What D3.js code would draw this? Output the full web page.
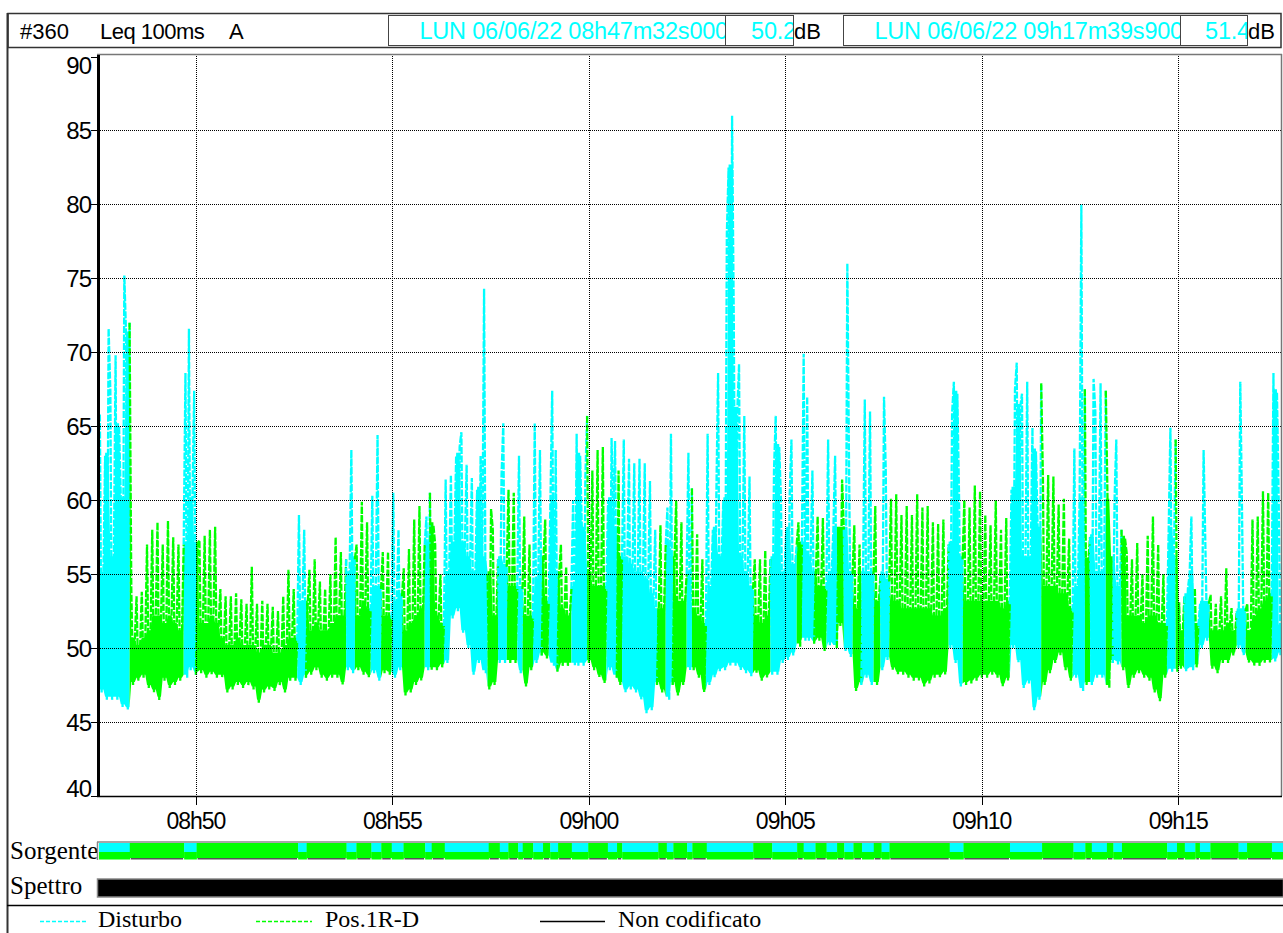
<!DOCTYPE html>
<html>
<head>
<meta charset="utf-8">
<title>#360 Leq 100ms A</title>
<script src="https://cdn.jsdelivr.net/npm/d3@7"></script>
<style>
  body { margin: 0; background: #fff; }
  svg { display: block; }
</style>
</head>
<body>
<div id="chart"></div>
<script>
// ---- data ----
var startTime = new Date(2022, 5, 6, 8, 47, 32, 0);
var endTime = new Date(2022, 5, 6, 9, 17, 39, 900);
var binSeconds = 8; // each triplet = three consecutive readings inside 8 s

var headerTitle = ["#360", "Leq 100ms", "A"];
var cursorTimes = ["LUN 06/06/22 08h47m32s000", "LUN 06/06/22 09h17m39s900"];
var cursorValues = [50.2, 51.4];

var yTicks = [40, 45, 50, 55, 60, 65, 70, 75, 80, 85, 90];

// dB readings, 08h47m32 -> 08h52m36
var levelsBlock1 = [
  [65.8,47,55],[63,46.5,71.6],[67.4,46.5,56],[69.8,46.5,65],[60,46,75.2],[71.2,45.8,72],
  [54,47.5,50.5],[53.5,47.8,50],[53.8,48,50.5],[57,47.3,51],[58,47,52],[58.5,46.5,52],
  [57,47.8,51.5],[58.6,47.3,52],[57.5,47.5,51.5],[57,47.8,51],[57,68.6,48],[71.6,48.5,60],
  [67.4,48.2,57],[57.3,48.3,51.5],[57.6,48,51.5],[58,48.2,52],[58.2,48,51.5],[54,48,50.5],
  [53.5,47,50],[53.5,47.2,50],[53.7,47.5,50.5],[53.3,47.3,50],[53,47.5,50],[55.5,47.2,50],
  [53,46.3,49.5],[53.2,47,50],[53,47.2,50],[52.8,47.1,49.5],[52.5,47.5,49.5],[53.5,47,50],
  [55.3,47.8,50.5],[54,47.8,50.5]
];
// 08h52m36 -> 08h57m40
var levelsBlock2 = [
  [59,47.5,53],[58,48,53],[55.3,48.2,51],[56,48.5,51.5],[54.5,48,51],[54,47.8,51],
  [55,48,51.5],[57.5,48,52],[56.5,47.5,52],[56,48.5,55],[63.4,48.3,56],[57,48.5,52],
  [59.9,48.2,53],[58.5,48,52.5],[60.3,48.3,54],[64.4,47.8,54],[56.5,48.3,52],[56.5,48.2,52],
  [60.5,48,53],[58,48.5,53.5],[55.4,46.8,51],[56.7,47,51.5],[58.7,47.5,52],[59.6,47.8,52.5],
  [57,58.9,48.5],[60.5,48.5,58.3],[57,48.5,52],[55,48.7,51.5],[61.4,49,55],[61.7,52,57],
  [63,52.5,63.6],[64.6,51,57],[62.4,50,56],[61.5,48.2,55],[60.7,49,63],[56,74.3,48.3],
  [55,47.2,59.4],[58,47.5,52]
];
// 08h57m40 -> 09h02m44
var levelsBlock3 = [
  [56,49,61.7],[65.2,49,55.5],[60.7,49,54],[60.5,49,54],[63,48.3,54],[58.9,47.4,52],
  [57,48.5,52],[65.2,49,54.5],[63.4,49.5,56],[58.7,49.3,53],[60,67.4,48.8],[63.4,48.4,55],
  [57,48.8,52.5],[55.5,48.8,52],[54,60,48.8],[64.5,48.8,63],[58,48.8,61.6],[65.7,49,55],
  [62,48.5,54],[63.4,48,54],[63.6,47.6,54],[60,48.5,64.2],[58,64,48],[62,47.5,56],
  [64.1,47,56],[62.8,47.2,55.5],[62.5,47,55],[62.8,46.5,55],[62.5,45.6,54.5],[61.3,45.8,53.5],
  [58,47.5,52.5],[58.3,47,52.5],[57,59.5,46.5],[64.5,47.5,56],[60,46.8,53],[58.5,47.5,53],
  [55,63.2,48.5],[60.8,48.5,52.5]
];
// 09h02m44 -> 09h07m48
var levelsBlock4 = [
  [57.7,48,52],[56,47,51.5],[64.5,47.5,54],[58,48,60.4],[68.6,48.4,56],[60,48.5,78],
  [82.5,48.8,86],[72,48.8,66.1],[69.2,48.5,56],[65.7,48.3,55],[61.6,48.1,54],[56,48.3,52],
  [56,47.8,51.5],[56.6,48,52],[56,48.2,62],[65.7,48.2,63.6],[60,49,55],[58,49.2,60.4],
  [64.1,49.5,55.5],[57,58.5,50.1],[57,69.9,50.5],[67,50.5,56],[62,50.3,55],[58.9,50.5,54],
  [58.8,49.8,54],[64.1,50.2,55],[58,63,50],[58,51.5,61.4],[58,49.8,76],[62,49.4,55],
  [58.3,47.1,52.5],[57,47.5,55],[66.8,48,55],[66,47.5,55],[59.6,47.5,53],[55,48.5,67],
  [62,49.2,54.5],[60.1,48.5,53]
];
// 09h07m48 -> 09h12m52
var levelsBlock5 = [
  [60.4,48.2,53],[59,48.2,52.5],[59.6,48,52.5],[59,47.8,52.5],[60.4,47.8,52.5],[59.5,47.4,52.5],
  [59.6,47.6,52.5],[58.5,48,52],[58.4,48,52],[58.7,48.2,52.5],[57,50,65.9],[68,49,67.2],
  [60,47.4,56],[60,47.5,53],[59.5,47.6,53],[61,47.8,53],[60.6,48,53],[59,48,53],
  [58.3,48.2,53],[60,48,53],[58,47.4,52.5],[58.8,47.8,53],[60.7,50,67.5],[69.3,49,66.3],
  [67.2,47.3,56],[68,47.6,56],[64.9,45.8,63.3],[58,46.5,67.9],[61.4,47.5,54],[61.7,48.3,54],
  [61.6,49,54],[59.7,49.5,53.5],[60.1,48.5,53.5],[57.4,47.8,52.5],[63.5,48,54],[60,80,47.1],
  [67.5,47.5,55.9],[57.5,47.5,68.2]
];
// 09h12m52 -> 09h17m40
var levelsBlock6 = [
  [66,48,55],[67.9,48,55],[67.4,59.9,47.3],[56,49,60],[64.1,48.9,54],[58,48.5,57.4],
  [56.4,47.3,52],[56,48,52],[57.1,48.3,52],[55,48,51.5],[57.6,47.8,52],[58.9,47,52],
  [57,46.4,51.5],[55,48,51.5],[58,64.9,48.4],[56,64.1,48.4],[53.1,48.6,51],[53.5,48.4,54],
  [55,58.9,48.5],[54,48.7,51.5],[53,50,63.4],[57,50.5,53],[53.6,48.6,51],[53,48.3,51],
  [53.5,49,51],[55.4,49,51.5],[52.7,49.5,51],[52.5,50,68],[59.2,49.5,52.5],[53,49,51],
  [58.7,48.8,52],[58.9,48.8,52.5],[60.6,49,53],[60.5,49,53.5],[68.6,49.1,67.3],[60,49.5,51.4]
];

// source coding: segment start (s after 08h47m32) and code
var sourceStart = [0,47,130,149,304,317,378,393,416,431,447,465,498,508,528,595,612,625,640,647,
  663,678,689,701,722,747,777,791,799,854,867,877,898,906,928,999,1028,1066,1076,1094,
  1111,1127,1138,1152,1165,1183,1195,1207,1299,1320,1391,1440,1488,1506,1516,1539,1549,1562,
  1631,1646,1658,1674,1681,1697,1740,1753,1791];
var sourceCode = sourceStart.map(function (s, i) { return i % 2 === 0 ? "D" : "P"; });

var legendLabels = ["Disturbo", "Pos.1R-D", "Non codificato"];
var legendCodes = ["D", "P", "N"];

// ---- drawing ----
var W = 1283, H = 933;
var sans = "'Liberation Sans', Arial, sans-serif";
var serif = "'Liberation Serif', 'Times New Roman', serif";
var colors = { D: "#00ffff", P: "#00ff00", N: "#000000" };

var svg = d3.select("#chart").append("svg")
    .attr("width", W)
    .attr("height", H);

var x = d3.scaleTime().domain([startTime, endTime]).range([99, 1283]);
var y = d3.scaleLinear().domain([40, 90]).range([796, 56.5]);

function atSec(s) { return new Date(startTime.getTime() + s * 1000); }
function codeAt(s) { return sourceCode[Math.max(0, d3.bisectRight(sourceStart, s) - 1)]; }

// outer frame
svg.append("line").attr("x1", 7.5).attr("x2", 7.5).attr("y1", 13).attr("y2", H)
    .attr("stroke", "#333").attr("stroke-width", 2);

// header
svg.append("rect").attr("x", 8).attr("y", 13.5).attr("width", 1273).attr("height", 34)
    .attr("fill", "none").attr("stroke", "#333").attr("stroke-width", 1.5);
svg.append("text").attr("x", 20).attr("y", 39).attr("font-family", sans).attr("font-size", 22)
    .text(headerTitle[0]);
svg.append("text").attr("x", 100).attr("y", 39).attr("font-family", sans).attr("font-size", 22)
    .attr("letter-spacing", -0.5).text(headerTitle[1]);
svg.append("text").attr("x", 229).attr("y", 39).attr("font-family", sans).attr("font-size", 22)
    .text(headerTitle[2]);

var boxes = [
  { x0: 388, x1: 725, text: cursorTimes[0] },
  { x0: 725, x1: 793, text: cursorValues[0].toFixed(1), unit: true },
  { x0: 843, x1: 1180, text: cursorTimes[1] },
  { x0: 1180, x1: 1247, text: cursorValues[1].toFixed(1), unit: true }
];
var defs = svg.append("defs");
boxes.forEach(function (b, i) {
  defs.append("clipPath").attr("id", "hb" + i)
    .append("rect").attr("x", b.x0).attr("y", 14).attr("width", b.x1 - b.x0).attr("height", 32);
  svg.append("rect").attr("x", b.x0 + 0.5).attr("y", 15.5).attr("width", b.x1 - b.x0).attr("height", 30)
      .attr("fill", "none").attr("stroke", "#444").attr("stroke-width", 1);
  svg.append("text").attr("clip-path", "url(#hb" + i + ")")
      .attr("x", b.x1 + 3).attr("y", 39).attr("text-anchor", "end")
      .attr("font-family", sans).attr("font-size", 23.5).attr("letter-spacing", -0.2)
      .attr("fill", colors.D)
      .text(b.text);
  if (b.unit) {
    svg.append("text").attr("x", b.x1 + 1).attr("y", 39)
        .attr("font-family", sans).attr("font-size", 22).text("dB");
  }
});

// plot clip
defs.append("clipPath").attr("id", "plotclip")
  .append("rect").attr("x", 99).attr("y", 55).attr("width", 1182).attr("height", 741);

// data points: three readings per bin, coloured by source coding
var levels = [].concat(levelsBlock1, levelsBlock2, levelsBlock3, levelsBlock4, levelsBlock5, levelsBlock6);
var points = [];
levels.forEach(function (trip, i) {
  var lo = d3.min(trip), body = d3.median(trip);
  trip.forEach(function (v, k) {
    var s = i * binSeconds + (k + 0.5) * binSeconds / 3;
    points.push({ sec: s, date: atSec(s), value: v, lo: lo, body: body });
  });
});

var runs = [];
var cur = null;
points.forEach(function (p, j) {
  var c = codeAt(p.sec);
  if (!cur || cur.code !== c) {
    cur = { code: c, pts: j > 0 ? [points[j - 1]] : [] };
    runs.push(cur);
  }
  cur.pts.push(p);
});

var line = d3.line()
    .x(function (d) { return x(d.date); })
    .y(function (d) { return y(d.value); });

// dense body of the trace (between the low and middle reading of each bin)
var body = d3.area()
    .x(function (d) { return x(d.date); })
    .y0(function (d) { return y(d.lo) - 3; })
    .y1(function (d) { return y(d.body) - 3; });

var plot = svg.append("g").attr("clip-path", "url(#plotclip)");
plot.selectAll(".body").data(runs).enter().append("path")
    .attr("class", "body")
    .attr("d", function (d) { return body(d.pts); })
    .attr("fill", function (d) { return colors[d.code]; });
plot.selectAll(".trace").data(runs).enter().append("path")
    .attr("class", "trace")
    .attr("d", function (d) { return line(d.pts); })
    .attr("fill", "none")
    .attr("stroke", function (d) { return colors[d.code]; })
    .attr("stroke-width", 2.3)
    .attr("stroke-dasharray", "7,1.5");

// grid (on top of the trace, dotted)
var xTicks = x.ticks(d3.timeMinute.every(5));
svg.append("g").selectAll("line").data(yTicks.filter(function (v) { return v > 40 && v < 90; }))
  .enter().append("line")
    .attr("x1", 100).attr("x2", 1281)
    .attr("y1", function (d) { return Math.round(y(d)) + 0.5; })
    .attr("y2", function (d) { return Math.round(y(d)) + 0.5; })
    .attr("stroke", "#000").attr("stroke-dasharray", "1,1");
svg.append("g").selectAll("line").data(xTicks).enter().append("line")
    .attr("x1", function (d) { return Math.round(x(d)) + 0.5; })
    .attr("x2", function (d) { return Math.round(x(d)) + 0.5; })
    .attr("y1", 56).attr("y2", 796)
    .attr("stroke", "#000").attr("stroke-dasharray", "1,1");

// frame and axes
svg.append("line").attr("x1", 97).attr("x2", 1282).attr("y1", 54.5).attr("y2", 54.5)
    .attr("stroke", "#777").attr("stroke-width", 1.5);
svg.append("line").attr("x1", 1281.5).attr("x2", 1281.5).attr("y1", 54).attr("y2", 796)
    .attr("stroke", "#777").attr("stroke-width", 1.5);
svg.append("line").attr("x1", 97).attr("x2", 1282).attr("y1", 796.5).attr("y2", 796.5)
    .attr("stroke", "#000").attr("stroke-width", 1.5);
svg.append("line").attr("x1", 98.5).attr("x2", 98.5).attr("y1", 55).attr("y2", 797)
    .attr("stroke", "#000").attr("stroke-width", 3);

var yAxis = svg.append("g");
yAxis.selectAll("line").data(yTicks).enter().append("line")
    .attr("x1", 91).attr("x2", 97)
    .attr("y1", function (d) { return Math.round(y(d)) + 0.5; })
    .attr("y2", function (d) { return Math.round(y(d)) + 0.5; })
    .attr("stroke", "#000");
yAxis.selectAll("text").data(yTicks).enter().append("text")
    .attr("x", 91)
    .attr("y", function (d) {
      if (d === 90) return y(d) + 17;
      if (d === 40) return y(d) + 1;
      return y(d) + 8.5;
    })
    .attr("text-anchor", "end")
    .attr("font-family", sans).attr("font-size", 24).attr("letter-spacing", -1)
    .text(function (d) { return d; });

var xFmt = d3.timeFormat("%Hh%M");
var xAxis = svg.append("g");
xAxis.selectAll("line").data(xTicks).enter().append("line")
    .attr("x1", function (d) { return Math.round(x(d)) + 0.5; })
    .attr("x2", function (d) { return Math.round(x(d)) + 0.5; })
    .attr("y1", 796).attr("y2", 805)
    .attr("stroke", "#000");
xAxis.selectAll("text").data(xTicks).enter().append("text")
    .attr("x", function (d) { return x(d); })
    .attr("y", 829)
    .attr("text-anchor", "middle")
    .attr("font-family", sans).attr("font-size", 23).attr("letter-spacing", -1)
    .text(function (d) { return xFmt(d); });

// Sorgente row
svg.append("text").attr("x", 10).attr("y", 859).attr("font-family", serif).attr("font-size", 25)
    .text("Sorgente");
var segs = sourceStart.map(function (s, i) {
  var e = i + 1 < sourceStart.length ? atSec(sourceStart[i + 1]) : endTime;
  return { x0: x(atSec(s)), x1: x(e), code: sourceCode[i] };
});
svg.append("rect").attr("x", 97).attr("y", 842).attr("width", 1186).attr("height", 18).attr("fill", "#fff");
svg.append("line").attr("x1", 97).attr("x2", 1283).attr("y1", 842).attr("y2", 842)
    .attr("stroke", "#888").attr("stroke-width", 1.5);
svg.append("line").attr("x1", 97.5).attr("x2", 97.5).attr("y1", 842).attr("y2", 860)
    .attr("stroke", "#888").attr("stroke-width", 1.5);
var src = svg.append("g");
src.selectAll(".top").data(segs).enter().append("rect")
    .attr("x", function (d) { return d.x0; })
    .attr("width", function (d) { return d.x1 - d.x0 + 0.3; })
    .attr("y", 843).attr("height", 9)
    .attr("fill", function (d) { return colors[d.code]; });
src.selectAll(".bot").data(segs).enter().append("rect")
    .attr("x", function (d) { return d.x0; })
    .attr("width", function (d) { return d.x1 - d.x0 + 0.3; })
    .attr("y", 852).attr("height", function (d) { return d.code === "D" ? 7.5 : 6; })
    .attr("fill", colors.P);
src.selectAll(".edge").data(segs.filter(function (d) { return d.code === "P"; })).enter().append("rect")
    .attr("x", function (d) { return d.x0 + 1; })
    .attr("width", function (d) { return Math.max(0, d.x1 - d.x0 - 2); })
    .attr("y", 858).attr("height", 1.5)
    .attr("fill", "#555");

// Spettro row
svg.append("text").attr("x", 10).attr("y", 894).attr("font-family", serif).attr("font-size", 25)
    .text("Spettro");
svg.append("rect").attr("x", 97.5).attr("y", 879).attr("width", 1186).attr("height", 18)
    .attr("fill", "#000").attr("stroke", "#888").attr("stroke-width", 1.5);

// legend
svg.append("line").attr("x1", 7).attr("x2", 1283).attr("y1", 905.5).attr("y2", 905.5)
    .attr("stroke", "#000").attr("stroke-width", 1.5);
var legendLine = [[40, 88], [256, 312], [540, 605]];
var legendText = [98, 325, 618];
var lg = svg.append("g");
legendLabels.forEach(function (lbl, i) {
  var c = legendCodes[i];
  lg.append("line")
    .attr("x1", legendLine[i][0]).attr("x2", legendLine[i][1])
    .attr("y1", 921.5).attr("y2", 921.5)
    .attr("stroke", colors[c]).attr("stroke-width", 1.5)
    .attr("stroke-dasharray", c === "N" ? null : "4,2");
  lg.append("text").attr("x", legendText[i]).attr("y", 927)
    .attr("font-family", serif).attr("font-size", 24)
    .text(lbl);
});
</script>
</body>
</html>
